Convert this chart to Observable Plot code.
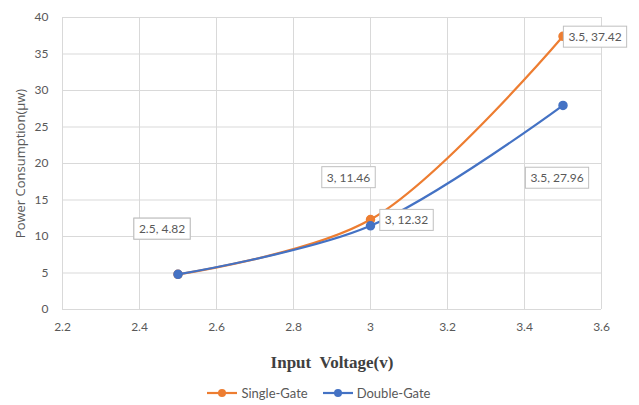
<!DOCTYPE html>
<html>
<head>
<meta charset="utf-8">
<script src="https://cdn.jsdelivr.net/npm/d3@7"></script>
<script src="https://cdn.jsdelivr.net/npm/@observablehq/plot@0.6"></script>
<style>
  html, body { margin: 0; padding: 0; background: #fff; }
  #chart { width: 639px; position: relative; }
  #legend { display: flex; justify-content: center; align-items: center; gap: 14px;
            font: 13px Lato, "Open Sans", sans-serif; color: #595959; height: 25px; margin-left: -2px; }
  #legend .item { display: flex; align-items: center; gap: 3px; }
</style>
</head>
<body>
<div id="chart"></div>
<script>
// ---- data ----
const seriesNames = ["Single-Gate", "Double-Gate"];
const voltage = [2.5, 3, 3.5];
const singleGate = [4.82, 12.32, 37.42];
const doubleGate = [4.82, 11.46, 27.96];
const xTicks = [2.2, 2.4, 2.6, 2.8, 3, 3.2, 3.4, 3.6];
const yTicks = [0, 5, 10, 15, 20, 25, 30, 35, 40];
const xTitle = "Input\u00a0 Voltage(v)";
const yTitle = "Power Consumption(\u00b5w)";

const colors = {"Single-Gate": "#ED7D31", "Double-Gate": "#4472C4"};

const rows = [];
voltage.forEach((v, i) => rows.push({series: "Single-Gate", x: v, y: singleGate[i]}));
voltage.forEach((v, i) => rows.push({series: "Double-Gate", x: v, y: doubleGate[i]}));

// label placement (pixel offsets from each data point), by series & point index
const labelPlacement = {
  "Single-Gate": [[-16, -45], [36, 1], [32, 1]],
  "Double-Gate": [[-16, -45], [-22, -48], [-6, 73]]
};

const font = "Lato, 'Open Sans', sans-serif";
const fmt = d => String(d);

const labelMarks = [];
seriesNames.forEach(s => {
  const vals = s === "Single-Gate" ? singleGate : doubleGate;
  voltage.forEach((v, i) => {
    const [dx, dy] = labelPlacement[s][i];
    labelMarks.push(Plot.text([{x: v, y: vals[i]}], {
      x: "x", y: "y", text: d => `${fmt(d.x)}, ${fmt(d.y)}`,
      dx, dy, fill: "#595959", fontSize: 12, fontFamily: font,
      textAnchor: "middle", lineAnchor: "middle"
    }));
  });
});

const plot = Plot.plot({
  width: 639,
  height: 380,
  marginTop: 17,
  marginBottom: 71,
  marginLeft: 62,
  marginRight: 38,
  style: {fontFamily: font, fontSize: "12px", color: "#595959", background: "#fff"},
  x: {domain: [2.2, 3.6], ticks: xTicks, tickFormat: fmt, tickSize: 0, tickPadding: 13, label: null},
  y: {domain: [0, 40], ticks: yTicks, tickFormat: fmt, tickSize: 0, tickPadding: 14, label: null},
  marks: [
    Plot.ruleX(xTicks, {stroke: "#d9d9d9", strokeWidth: 1}),
    Plot.ruleY(yTicks, {stroke: "#d9d9d9", strokeWidth: 1}),
    Plot.line(rows.filter(d => d.series === "Single-Gate"), {x: "x", y: "y", stroke: colors["Single-Gate"], strokeWidth: 2.2, curve: "catmull-rom"}),
    Plot.dot(rows.filter(d => d.series === "Single-Gate"), {x: "x", y: "y", r: 4, fill: colors["Single-Gate"], stroke: colors["Single-Gate"]}),
    Plot.line(rows.filter(d => d.series === "Double-Gate"), {x: "x", y: "y", stroke: colors["Double-Gate"], strokeWidth: 2.2, curve: "catmull-rom"}),
    Plot.dot(rows.filter(d => d.series === "Double-Gate"), {x: "x", y: "y", r: 4, fill: colors["Double-Gate"], stroke: colors["Double-Gate"]}),
    ...labelMarks,
    Plot.text([yTitle], {frameAnchor: "left", rotate: -90, dx: -42, text: d => d, textAnchor: "middle", fontSize: 13, fontFamily: "'Open Sans', sans-serif", fill: "#595959"}),
    Plot.text([xTitle], {frameAnchor: "bottom", dy: 58, text: d => d, textAnchor: "middle", fontSize: 17, fontWeight: "bold", fontFamily: "'Liberation Serif', 'DejaVu Serif', serif", fill: "#404040"})
  ]
});

const chart = document.getElementById("chart");
chart.appendChild(plot);

// white boxes with grey border behind data labels
Array.from(plot.querySelectorAll("text")).filter(t => /^\d[\d.]*, \d/.test(t.textContent)).forEach(t => {
  const b = t.getBBox();
  const r = document.createElementNS("http://www.w3.org/2000/svg", "rect");
  r.setAttribute("x", b.x - 5);
  r.setAttribute("y", b.y - 3);
  r.setAttribute("width", b.width + 10);
  r.setAttribute("height", b.height + 6);
  r.setAttribute("fill", "#fff");
  r.setAttribute("stroke", "#bfbfbf");
  r.setAttribute("stroke-width", 1);
  if (t.getAttribute("transform")) r.setAttribute("transform", t.getAttribute("transform"));
  t.parentNode.insertBefore(r, t);
});

// legend
const legend = document.createElement("div");
legend.id = "legend";
seriesNames.forEach(s => {
  const item = document.createElement("div");
  item.className = "item";
  item.innerHTML = `<svg width="32" height="10"><line x1="1" x2="31" y1="5" y2="5" stroke="${colors[s]}" stroke-width="2.2"/><circle cx="16" cy="5" r="4" fill="${colors[s]}"/></svg><span>${s}</span>`;
  legend.appendChild(item);
});
chart.appendChild(legend);
</script>
</body>
</html>
